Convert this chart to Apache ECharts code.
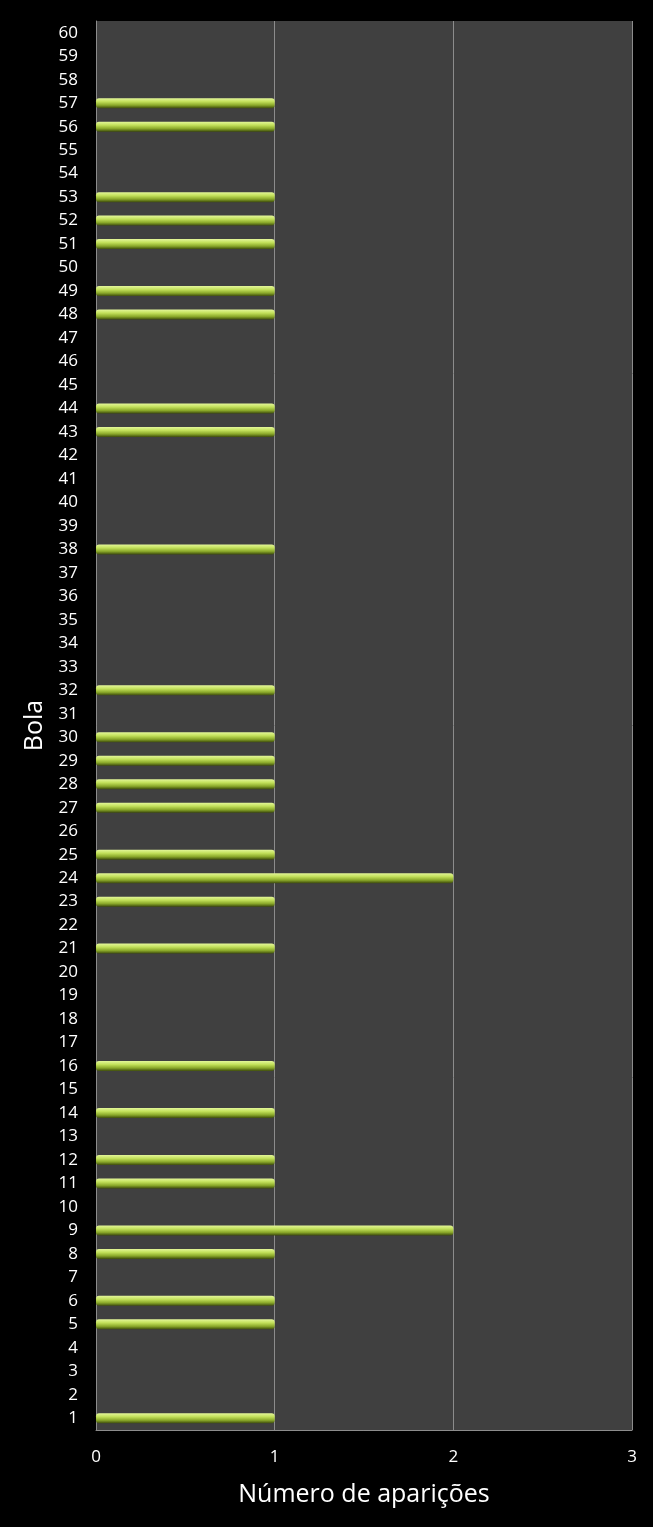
<!DOCTYPE html>
<html><head><meta charset="utf-8">
<script src="https://cdn.jsdelivr.net/npm/echarts@6/dist/echarts.min.js"></script>
<style>html,body{margin:0;padding:0;background:#000;}#c{width:653px;height:1527px;}</style>
</head><body><div id="c"></div>
<script>
const categories = [];
for (let i = 1; i <= 60; i++) categories.push(String(i));
const counts = [1,0,0,0,1,1,0,1,2,0, 1,1,0,1,0,1,0,0,0,0, 1,0,1,2,1,0,1,1,1,1, 0,1,0,0,0,0,0,1,0,0, 0,0,1,1,0,0,0,1,1,0, 1,1,1,0,0,1,1,0,0,0];
const xTicks = [0,1,2,3];

const chart = echarts.init(document.getElementById('c'));
chart.setOption({
  backgroundColor: '#000000',
  animation: false,
  grid: {left: 96, right: 21, top: 21, bottom: 97, show: true, backgroundColor: '#404040', borderWidth: 0},
  xAxis: {
    type: 'value', min: xTicks[0], max: xTicks[xTicks.length-1], interval: 1,
    name: 'Número de aparições', nameLocation: 'middle', nameGap: 52,
    nameTextStyle: {color: '#ffffff', fontSize: 25, fontFamily: 'Open Sans'},
    axisLine: {show: true, lineStyle: {color: '#8c8c8c', width: 1}},
    axisTick: {show: false},
    axisLabel: {color: '#ffffff', fontSize: 17, fontFamily: 'Open Sans', margin: 19},
    splitLine: {show: true, lineStyle: {color: '#8c8c8c', width: 1}}
  },
  yAxis: {
    type: 'category', data: categories,
    name: 'Bola', nameLocation: 'middle', nameGap: 47, nameRotate: 90,
    nameTextStyle: {color: '#ffffff', fontSize: 25, fontFamily: 'Open Sans'},
    axisLine: {show: true, lineStyle: {color: '#8c8c8c', width: 1}},
    axisTick: {show: false},
    axisLabel: {color: '#ffffff', fontSize: 17, fontFamily: 'Open Sans', margin: 18, interval: 0},
    splitLine: {show: false}
  },
  series: [{
    type: 'bar', data: counts, barWidth: 10,
    itemStyle: {
      borderRadius: 3,
      color: new echarts.graphic.LinearGradient(0,0,0,1,[
        {offset: 0, color: '#e4f79a'},
        {offset: 0.35, color: '#c2e05a'},
        {offset: 0.7, color: '#8aa82a'},
        {offset: 1, color: '#3e4c0c'}
      ])
    }
  }]
});
</script></body></html>
